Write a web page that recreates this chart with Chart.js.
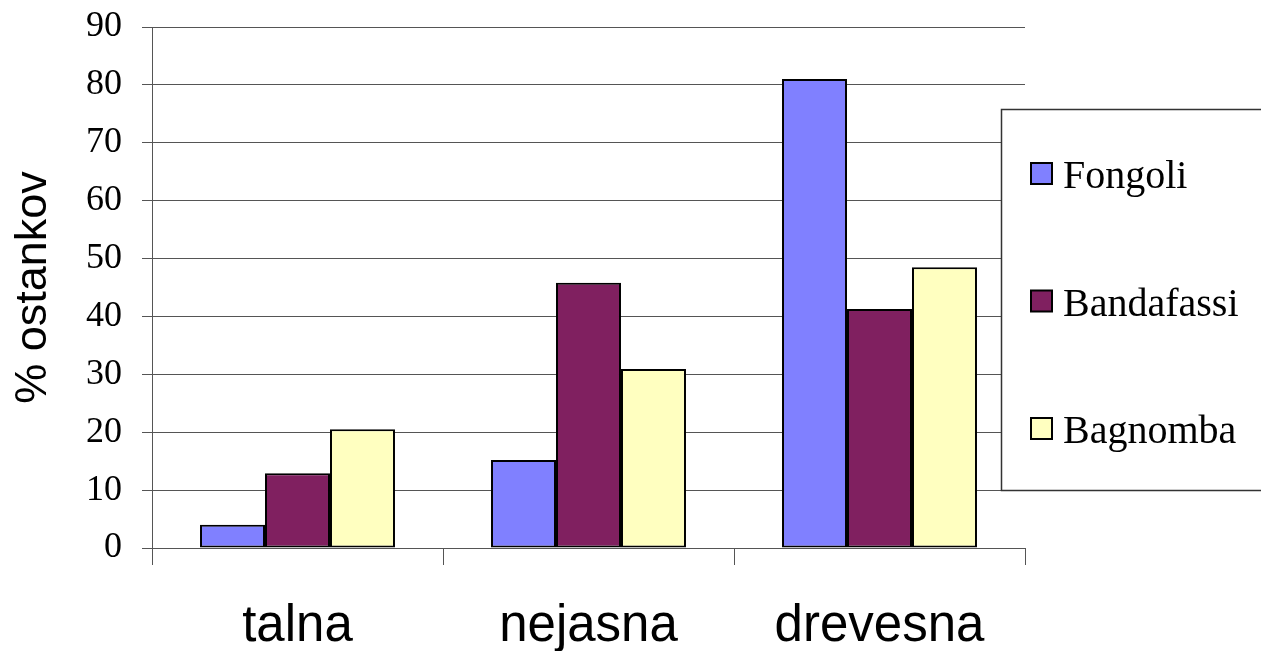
<!DOCTYPE html>
<html>
<head>
<meta charset="utf-8">
<script src="https://cdn.jsdelivr.net/npm/chart.js@4/dist/chart.umd.min.js"></script>
<style>
  html, body { margin: 0; padding: 0; background: #fff; }
  #wrap { width: 1261px; height: 651px; position: relative; }
</style>
</head>
<body>
<div id="wrap"><canvas id="chart"></canvas></div>
<script>
// Categories and series
const categories = ["talna", "nejasna", "drevesna"];
const fongoli = [4.0, 15.2, 81.0];
const bandafassi = [12.9, 45.8, 41.3];
const bagnomba = [20.5, 30.9, 48.5];
const seriesNames = ["Fongoli", "Bandafassi", "Bagnomba"];
const seriesColors = ["#8080FF", "#802060", "#FFFFC0"];
const yTitle = "% ostankov";

// Legend drawn as a boxed panel on the right, like the original spreadsheet chart
const boxLegend = {
    id: "boxLegend",
    afterDraw(chart) {
        const ctx = chart.ctx;
        ctx.save();
        ctx.fillStyle = "#fff";
        ctx.fillRect(1001, 109, 270, 382);
        ctx.strokeStyle = "#333";
        ctx.lineWidth = 1.5;
        ctx.strokeRect(1001.5, 109.5, 270, 381);
        ctx.font = "40px 'Liberation Serif', 'Times New Roman', serif";
        ctx.textBaseline = "alphabetic";
        chart.data.datasets.forEach(function (ds, i) {
            const cy = 173 + i * 127.5;
            ctx.fillStyle = ds.backgroundColor;
            ctx.fillRect(1031, cy - 10, 21, 21);
            ctx.strokeStyle = "#000";
            ctx.lineWidth = 2;
            ctx.strokeRect(1031, cy - 10, 21, 21);
            ctx.fillStyle = "#000";
            ctx.fillText(ds.label, 1063, cy + 15);
        });
        ctx.restore();
    }
};

new Chart(document.getElementById("chart"), {
    type: "bar",
    data: {
        labels: categories,
        datasets: [fongoli, bandafassi, bagnomba].map(function (vals, i) {
            return {
                label: seriesNames[i], data: vals,
                backgroundColor: seriesColors[i], borderColor: "#000",
                borderWidth: 2, borderSkipped: false,
                categoryPercentage: 0.67, barPercentage: 1.0
            };
        })
    },
    options: {
        responsive: true, maintainAspectRatio: false, animation: false,
        layout: { padding: { top: 27, right: 236, left: 0, bottom: 0 } },
        plugins: { legend: { display: false }, tooltip: { enabled: false } },
        scales: {
            x: {
                offset: true,
                grid: { offset: true, drawOnChartArea: false, drawTicks: true, tickLength: 17, color: "#555", lineWidth: 1 },
                border: { color: "#555", width: 1 },
                ticks: { color: "#000", padding: 31, font: { family: "'Liberation Sans', Arial, sans-serif", size: 51 } },
                afterFit: function (s) { s.height = 103; }
            },
            y: {
                min: 0, max: 90,
                ticks: { stepSize: 10, color: "#000", padding: 20, font: { family: "'Liberation Serif', 'Times New Roman', serif", size: 36 } },
                grid: { color: "#555", lineWidth: 1, tickLength: 10 },
                border: { color: "#555", width: 1 },
                title: { display: true, text: yTitle, color: "#000", padding: { top: 7, bottom: 0 },
                         font: { family: "'Liberation Sans', Arial, sans-serif", size: 45 } },
                afterFit: function (s) { s.width = 152; s.paddingTop = 0; s.paddingBottom = 0; }
            }
        }
    },
    plugins: [boxLegend]
});
</script>
</body>
</html>
